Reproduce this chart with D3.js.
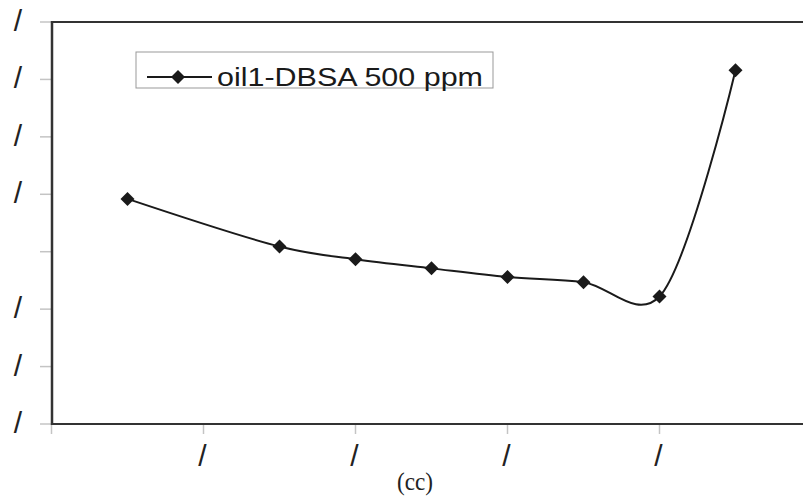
<!DOCTYPE html>
<html>
<head>
<meta charset="utf-8">
<script src="https://cdn.jsdelivr.net/npm/d3@7"></script>
<style>
  body { margin: 0; background: #fff; }
  svg { display: block; }
</style>
</head>
<body>
<svg id="chart" width="803" height="496"></svg>
<script>
// values, in axis units (labels are hidden in the source)
const xValues = [0.5, 1.5, 2, 2.5, 3, 3.5, 4, 4.5];
const yValues = [3.92, 3.09, 2.87, 2.71, 2.56, 2.47, 2.22, 6.16];
const seriesName = "oil1-DBSA 500 ppm";
const xTicks = [0, 1, 2, 3, 4, 5];
const xTickLabels = ["", "/", "/", "/", "/", ""];
const yTicks = [0, 1, 2, 3, 4, 5, 6, 7];
const yTickLabels = ["/", "/", "/", "", "/", "/", "/", "/"];
const xTitle = "(cc)";

const svg = d3.select("#chart");
const plotLeft = 52, plotTop = 22, plotBottom = 424;

const x = d3.scaleLinear().domain([0, 5]).range([51.5, 51.5 + 5 * 152]);
const y = d3.scaleLinear().domain([0, 7]).range([plotBottom, plotTop]);

// tick marks
svg.selectAll(".ytick")
  .data(yTicks)
  .enter().append("line")
  .attr("x1", plotLeft - 12).attr("x2", plotLeft)
  .attr("y1", d => y(d)).attr("y2", d => y(d))
  .style("stroke", "#c4c4c4").style("stroke-width", 1.5);

svg.selectAll(".xtick")
  .data(xTicks)
  .enter().append("line")
  .attr("x1", d => x(d)).attr("x2", d => x(d))
  .attr("y1", plotBottom).attr("y2", plotBottom + 10)
  .style("stroke", "#c4c4c4").style("stroke-width", 1.5);

// tick labels
svg.selectAll(".ylab")
  .data(yTicks)
  .enter().append("text")
  .attr("x", 18)
  .attr("y", d => y(d) + 9)
  .attr("text-anchor", "middle")
  .style("font-family", "Liberation Sans, Arial, sans-serif")
  .style("font-size", "30px")
  .style("fill", "#222")
  .text((d, i) => yTickLabels[i]);

svg.selectAll(".xlab")
  .data(xTicks)
  .enter().append("text")
  .attr("x", d => x(d) - 1)
  .attr("y", plotBottom + 42)
  .attr("text-anchor", "middle")
  .style("font-family", "Liberation Sans, Arial, sans-serif")
  .style("font-size", "30px")
  .style("fill", "#222")
  .text((d, i) => xTickLabels[i]);

// frame
svg.append("line")
  .attr("x1", plotLeft).attr("x2", 803).attr("y1", plotTop).attr("y2", plotTop)
  .style("stroke", "#333").style("stroke-width", 2);
svg.append("line")
  .attr("x1", plotLeft).attr("x2", 803).attr("y1", plotBottom).attr("y2", plotBottom)
  .style("stroke", "#333").style("stroke-width", 2);
svg.append("line")
  .attr("x1", plotLeft).attr("x2", plotLeft).attr("y1", plotTop - 1).attr("y2", plotBottom + 1)
  .style("stroke", "#333").style("stroke-width", 2.5);

// series (smoothed like the spreadsheet line)
const pts = xValues.map((v, i) => [x(v), y(yValues[i])]);
svg.append("path")
  .attr("d", d3.line().curve(d3.curveCatmullRom.alpha(0.2))(pts))
  .style("fill", "none")
  .style("stroke", "#1a1a1a")
  .style("stroke-width", 2);

const diamond = d3.symbol().type(d3.symbolSquare).size(98);
svg.selectAll(".pt")
  .data(pts)
  .enter().append("path")
  .attr("d", diamond)
  .attr("transform", d => `translate(${d[0]},${d[1]}) rotate(45)`)
  .style("fill", "#1a1a1a");

// legend
svg.append("rect")
  .attr("x", 136).attr("y", 52).attr("width", 357).attr("height", 36)
  .style("fill", "#fff").style("stroke", "#999").style("stroke-width", 1);
svg.append("line")
  .attr("x1", 147).attr("x2", 212).attr("y1", 77).attr("y2", 77)
  .style("stroke", "#1a1a1a").style("stroke-width", 2);
svg.append("path")
  .attr("d", diamond)
  .attr("transform", "translate(178,77) rotate(45)")
  .style("fill", "#1a1a1a");
svg.append("text")
  .attr("x", 217).attr("y", 86)
  .attr("textLength", 266)
  .attr("lengthAdjust", "spacingAndGlyphs")
  .style("font-family", "Liberation Sans, Arial, sans-serif")
  .style("font-size", "25px")
  .style("fill", "#1a1a1a")
  .text(seriesName);

// x title
svg.append("text")
  .attr("x", 415).attr("y", 490)
  .attr("text-anchor", "middle")
  .attr("textLength", 36)
  .attr("lengthAdjust", "spacingAndGlyphs")
  .style("font-family", "Liberation Serif, Times New Roman, serif")
  .style("font-size", "26px")
  .style("fill", "#222")
  .text(xTitle);
</script>
</body>
</html>
